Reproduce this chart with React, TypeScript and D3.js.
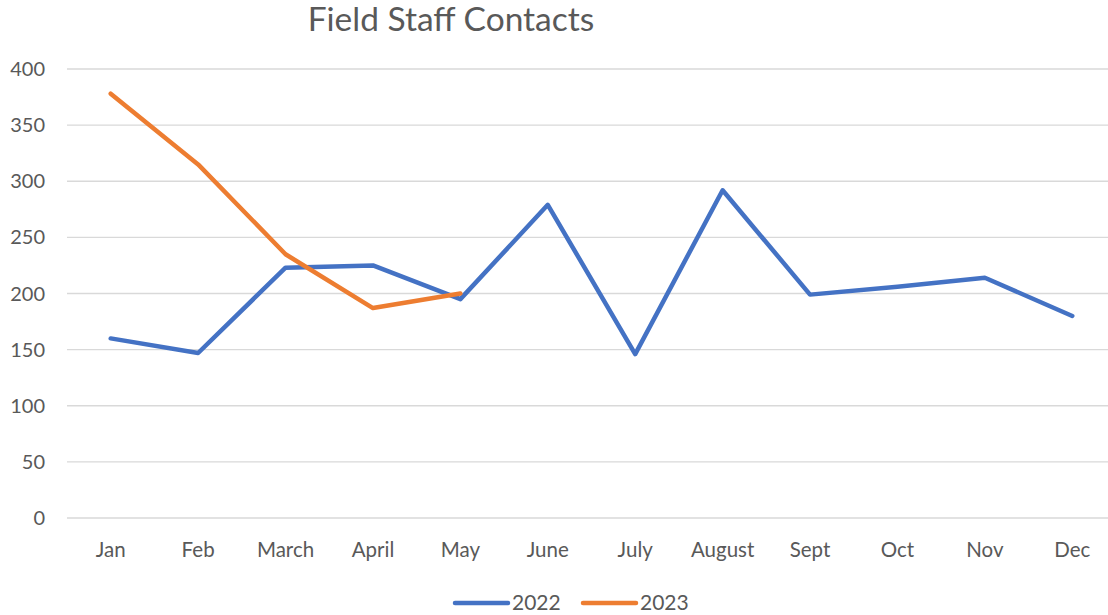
import React from "react";
import * as d3 from "d3";

const months = ["Jan", "Feb", "March", "April", "May", "June", "July", "August", "Sept", "Oct", "Nov", "Dec"];
const values2022 = [160, 147, 223, 225, 195, 279, 146, 292, 199, 206, 214, 180];
const values2023 = [378, 315, 235, 187, 200];
const yTicks = [0, 50, 100, 150, 200, 250, 300, 350, 400];
const seriesNames = ["2022", "2023"];
const colors = ["#4472C4", "#ED7D31"];

export default function App() {
  const W = 1108, H = 615;
  const left = 67, right = 1116, top = 69, bottom = 518;
  const x = d3.scaleBand<string>().domain(months).range([left, right]);
  const y = d3.scaleLinear().domain([0, 400]).range([bottom, top]);
  const cx = (m: string) => (x(m) ?? 0) + x.bandwidth() / 2;
  const line = d3.line<number>().x((_, i) => cx(months[i])).y((d) => y(d));
  const font = "Lato, 'Open Sans', sans-serif";
  const txt = "#595959";
  return (
    <svg width={W} height={H} style={{ position: "absolute", left: 0, top: 0, background: "#fff" }} fontFamily={font}>
      <text x={451} y={31} textAnchor="middle" fontSize={33.5} fill={txt}>Field Staff Contacts</text>
      {yTicks.map((t) => (
        <g key={t}>
          <line x1={left} x2={right} y1={y(t)} y2={y(t)} stroke="#d9d9d9" strokeWidth={1.3} />
          <text x={45} y={y(t)} dy="0.35em" textAnchor="end" fontSize={20} fill={txt}>{t}</text>
        </g>
      ))}
      {months.map((m) => (
        <text key={m} x={cx(m)} y={557} textAnchor="middle" fontSize={20.5} fill={txt}>{m}</text>
      ))}
      <path d={line(values2022) ?? ""} fill="none" stroke={colors[0]} strokeWidth={4.5} strokeLinejoin="round" strokeLinecap="round" />
      <path d={line(values2023) ?? ""} fill="none" stroke={colors[1]} strokeWidth={4.5} strokeLinejoin="round" strokeLinecap="round" />
      {seriesNames.map((s, i) => (
        <g key={s} transform={`translate(${455 + i * 128},603)`}>
          <line x1={0} x2={53} y1={0} y2={0} stroke={colors[i]} strokeWidth={4.5} strokeLinecap="round" />
          <text x={57} y={0} dy="0.35em" fontSize={21} fill={txt}>{s}</text>
        </g>
      ))}
    </svg>
  );
}
